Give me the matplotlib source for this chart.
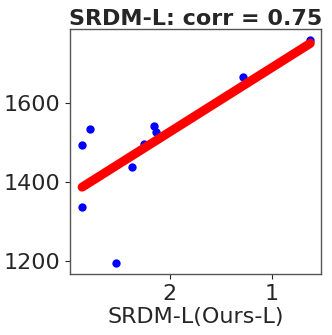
import matplotlib
matplotlib.use("Agg")
import matplotlib.pyplot as plt

# data
x_vals = [2.857, 2.782, 2.857, 2.525, 2.369, 2.248, 2.153, 2.137, 1.283, 0.626]
y_vals = [1494, 1535, 1337, 1195, 1439, 1497, 1543, 1528, 1666, 1760]
fit_x = [2.857, 0.626]
fit_y = [1388, 1752]
x_ticks = [2, 1]
y_ticks = [1200, 1400, 1600]
title = "SRDM-L: corr = 0.75"
xlabel = "SRDM-L(Ours-L)"

tc = "#262626"
fig = plt.figure(figsize=(3.32, 3.35), dpi=100)
ax = fig.add_axes([0.211, 0.182, 0.756, 0.731])
ax.scatter(x_vals, y_vals, s=36, color="blue", zorder=2, linewidths=0)
ax.plot(fit_x, fit_y, color="red", lw=6.5, solid_capstyle="round", zorder=3)
ax.set_xlim(2.975, 0.521)
ax.set_ylim(1168, 1788)
ax.set_xticks(x_ticks)
ax.set_yticks(y_ticks)
ax.tick_params(labelsize=16, colors=tc, length=3.5, width=0.8)
for sp in ax.spines.values():
    sp.set_color("#555555")
    sp.set_linewidth(1.0)
ax.set_title(title, fontsize=16, fontweight="bold", color=tc, pad=3)
ax.set_xlabel(xlabel, fontsize=16, color=tc, labelpad=2)
fig.savefig("out.png", dpi=100)
